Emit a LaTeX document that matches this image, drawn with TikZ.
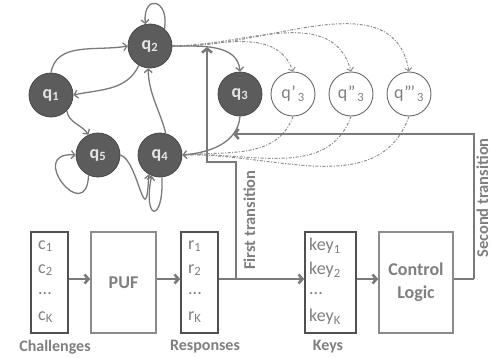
\documentclass[tikz,border=0pt]{standalone}
\usepackage{fontspec}
\setmainfont{Carlito}
\usetikzlibrary{arrows.meta}

\definecolor{edgegray}{HTML}{7A7A7A}
\definecolor{nodedark}{HTML}{5C5C5C}
\definecolor{nodeline}{HTML}{484848}
\definecolor{txtgray}{HTML}{7F7F7F}
\definecolor{boxdark}{HTML}{505050}
\definecolor{boxlight}{HTML}{8C8C8C}
\definecolor{ghostline}{HTML}{6A6A6A}

\tikzset{
  fsm/.style={circle, minimum size=44pt, inner sep=0pt, fill=nodedark, draw=nodeline,
    line width=0.8pt, text=white!90!black, font=\bfseries\fontsize{18}{18}\selectfont},
  ghost/.style={circle, minimum size=44pt, inner sep=0pt, fill=white, draw=ghostline,
    line width=0.9pt, text=txtgray, font=\fontsize{18}{18}\selectfont},
  trans/.style={draw=edgegray, line width=1.3pt, -{Straight Barb[length=3.5pt,width=8pt]}},
  altpath/.style={draw=edgegray!85, line width=1pt, dash pattern=on 3pt off 1.5pt on 1pt off 1.5pt},
  altarrow/.style={altpath, -{Straight Barb[length=3pt,width=7pt]}},
  listbox/.style={rectangle, draw=boxdark, line width=1.5pt, minimum width=37pt, minimum height=101pt, inner sep=0pt},
  blockbox/.style={rectangle, draw=boxlight, line width=1.5pt, minimum height=101pt, inner sep=0pt,
    text=txtgray, font=\bfseries\fontsize{18}{23}\selectfont, align=center},
  entry/.style={anchor=west, inner sep=0pt, text=txtgray, font=\fontsize{18}{18}\selectfont},
  caption/.style={text=txtgray, font=\bfseries\fontsize{16}{16}\selectfont, inner sep=0pt},
  sidelabel/.style={text=txtgray, font=\bfseries\fontsize{16.5}{16.5}\selectfont, inner sep=0pt,
    rotate=90, anchor=base},
  flow/.style={draw=edgegray, line width=2.6pt, -{Straight Barb[length=4pt,width=9pt]}},
  control/.style={draw=edgegray, line width=2.6pt},
  ctrlarrow/.style={control, -{Straight Barb[length=4pt,width=10pt]}},
}

\begin{document}
\begin{tikzpicture}[x=1pt,y=-1pt]
\useasboundingbox (0,0) rectangle (491,357);

% state machine
\node[fsm] (q1) at (51,95) {q\textsubscript{1}};
\node[fsm] (q2) at (150,46) {q\textsubscript{2}};
\node[fsm] (q3) at (240,94) {q\textsubscript{3}};
\node[fsm] (q4) at (160,155) {q\textsubscript{4}};
\node[fsm] (q5) at (98,155) {q\textsubscript{5}};
\node[ghost] (q3a) at (293,94) {q\kern0.5pt\textquoteright\kern2pt\textsubscript{3}};
\node[ghost] (q3b) at (351,94) {q\kern0.5pt\textquotedblright\kern2pt\textsubscript{3}};
\node[ghost] (q3c) at (409,94) {q\kern0.5pt\textquotedblright\kern-1pt\textquoteright\kern2pt\textsubscript{3}};

% alternative transitions
\draw[altarrow] (q2.east) to[out=0,in=110] (q3a.north);
\draw[altarrow] (q2.east) to[out=0,in=105] (q3b.north);
\draw[altarrow] (q2.east) to[out=-2,in=100] (q3c.north);
\draw[altpath] (q3a.south) to[out=-110,in=5] (q4.east);
\draw[altpath] (q3b.south) to[out=-110,in=3] (q4.east);
\draw[altpath] (q3c.south) to[out=-110,in=2] (q4.east);

% transitions
\draw[trans] (q1.north) to[out=80,in=190] (q2.west);
\draw[trans] (q2.-120) to[out=-115,in=12] (q1.east);
\draw[trans] (q1.-45) to[out=-80,in=125] (q5.115);
\draw[trans] (q2.east) to[out=0,in=95] (q3.north);
\draw[trans] (q3.south) to[out=-95,in=5] (q4.east);
\draw[trans] (q4.75) to[out=105,in=-88] (q2.-95);
\draw[trans] (q5.east) .. controls +(18,5) and +(-3,62) .. (q4.-120);
\draw[trans] (q2.50) to[out=80,in=95,looseness=4] (q2.102);
\draw[trans] (q5.-115) .. controls +(-2,52) and +(-50,-4) .. (q5.west);
\draw[trans] (q4.-85) .. controls +(2,46) and +(-9,46) .. (q4.-112);

% data path
\node[listbox] (ch) at (49.5,282.5) {};
\node[blockbox, minimum width=65pt] (puf) at (123.5,282.5) {PUF};
\node[listbox] (rs) at (199.5,282.5) {};
\node[listbox, minimum width=51pt] (ky) at (330.5,282.5) {};
\node[blockbox, minimum width=74pt] (cl) at (416,282.5) {Control\\Logic};

\node[entry] (c1) at (38,246) {c\textsubscript{1}};
\node[entry] (c2) at (38,270) {c\textsubscript{2}};
\node[entry] (c3) at (38,294) {...};
\node[entry] (c4) at (38,317) {c\textsubscript{K}};
\node[entry] (r1) at (188,246) {r\textsubscript{1}};
\node[entry] (r2) at (188,270) {r\textsubscript{2}};
\node[entry] (r3) at (188,294) {...};
\node[entry] (r4) at (188,317) {r\textsubscript{K}};
\node[entry] (k1) at (309,246) {key\textsubscript{1}};
\node[entry] (k2) at (309,270) {key\textsubscript{2}};
\node[entry] (k3) at (309,294) {...};
\node[entry] (k4) at (309,317) {key\textsubscript{K}};

\node[caption] (lch) at (55,347) {Challenges};
\node[caption] (lrs) at (205,347) {Responses};
\node[caption] (lky) at (328,347) {Keys};

\draw[flow] ([yshift=3.5pt]ch.east) -- ([yshift=3.5pt]puf.west);
\draw[flow] ([yshift=3.5pt]puf.east) -- ([yshift=3.5pt]rs.west);
\draw[flow] ([yshift=3.5pt]rs.east) -- ([yshift=3.5pt]ky.west);
\draw[flow] ([yshift=3.5pt]ky.east) -- ([yshift=3.5pt]cl.west);

% control signals into the state machine
\coordinate (f0) at (236,279);
\coordinate (f1) at (236,162);
\coordinate (f2) at (207,162);
\coordinate (f3) at (207,47);
\draw[ctrlarrow] (f0) -- (f1) -- (f2) -- (f3);
\coordinate (s0) at (474,279);
\coordinate (s1) at (474,134);
\coordinate (s2) at (233,134);
\draw[control] ([yshift=3.5pt]cl.east) -- (s0);
\draw[ctrlarrow] (s0) -- (s1) -- (s2);

\node[sidelabel] (lft) at (255,220) {First transition};
\node[sidelabel] (lst) at (488,198) {Second transition};
\end{tikzpicture}
\end{document}
